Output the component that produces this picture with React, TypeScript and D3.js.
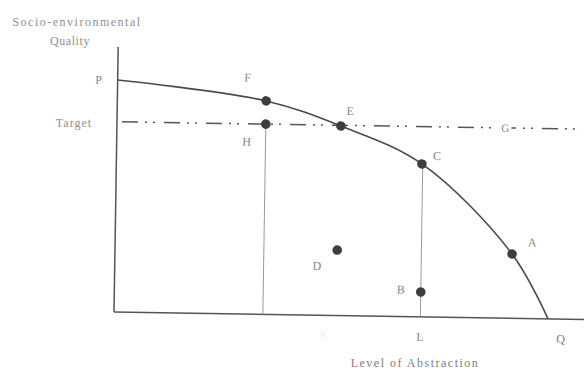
import React from "react";
import * as d3 from "d3";

// Frontier curve points (abstract units: x = level of abstraction, y = quality)
const curveNames = ["P", "F", "E", "C", "A", "Q"];
const curveX = [0, 34.3, 51.6, 70.4, 91.5, 100];
const curveY = [100, 92, 81.7, 65.9, 27.7, 0];

// Marked points (dots)
const dotNames = ["F", "H", "E", "C", "A", "D", "B"];
const dotX = [34.3, 34.3, 51.6, 70.4, 91.5, 51.2, 70.6];
const dotY = [92, 82, 81.7, 65.9, 27.7, 28.2, 10.7];

// Labels
const labelNames = ["P", "F", "H", "E", "C", "A", "D", "B"];
const labelX = [0, 34.3, 34.3, 51.6, 70.4, 91.5, 51.2, 70.6];
const labelY = [100, 92, 82, 81.7, 65.9, 27.7, 28.2, 10.7];

const targetValue = 82;
const targetLabel = "Target";
const gLabelX = 89.5;
const axisTickNames = ["K", "L", "Q"];
const axisTickX = [48.5, 70.6, 100];
const dropLineX = [34.3, 70.6];
const dropLineTop = [82, 65.9];

const yTitle1 = "Socio-environmental";
const yTitle2 = "Quality";
const xTitle = "Level of Abstraction";

const W = 584;
const H = 371;

export default function App() {
  const x = d3.scaleLinear().domain([0, 100]).range([114, 548]);
  const y = d3.scaleLinear().domain([0, 100]).range([312, 80]);

  const line = d3
    .line<number>()
    .x((_, i) => x(curveX[i]))
    .y((_, i) => y(curveY[i]))
    .curve(d3.curveCatmullRom.alpha(0.5));
  const path = line(curveX) || "";

  const offsets: Record<string, [number, number]> = {
    P: [-19, 0],
    F: [-19, -23],
    H: [-19, 18],
    E: [9, -15],
    C: [15, -8],
    A: [20, -12],
    D: [-20, 16],
    B: [-20, -2],
  };

  const font = "'Liberation Serif', 'DejaVu Serif', serif";
  const textFill = "#858585";

  return (
    <svg
      width={W}
      height={H}
      style={{ position: "absolute", left: 0, top: 0, background: "#fff" }}
      fontFamily={font}
    >
      <text x={77} y={26} textAnchor="middle" fontSize={12} letterSpacing={1.5} fill="#8f8f8f">
        {yTitle1}
      </text>
      <text x={70} y={45} textAnchor="middle" fontSize={12} letterSpacing={0.6} fill="#8f8f8f">
        {yTitle2}
      </text>
      <text x={415} y={367} textAnchor="middle" fontSize={12} letterSpacing={1.5} fill="#808080">
        {xTitle}
      </text>
      <text x={74} y={123} textAnchor="middle" dominantBaseline="central" fontSize={12} letterSpacing={1} fill="#8f8f8f">
        {targetLabel}
      </text>

      <g transform={`rotate(0.9, ${x(0)}, ${y(0)})`}>
        {/* axes */}
        <line x1={x(0)} x2={x(0)} y1={47} y2={y(0)} stroke="#555" strokeWidth={1.5} />
        <line x1={x(0)} x2={W + 10} y1={y(0)} y2={y(0)} stroke="#555" strokeWidth={1.5} />

        {/* target line */}
        <line
          x1={x(0) + 5}
          x2={W + 10}
          y1={y(targetValue)}
          y2={y(targetValue)}
          stroke="#555"
          strokeWidth={1.5}
          strokeDasharray="16,7,2,6,2,9"
        />

        {/* drop lines */}
        {dropLineX.map((v, i) => (
          <line key={i} x1={x(v)} x2={x(v)} y1={y(dropLineTop[i])} y2={y(0)} stroke="#999" strokeWidth={1} />
        ))}

        {/* frontier curve */}
        <path d={path} fill="none" stroke="#4a4a4a" strokeWidth={1.6} />

        {/* dots */}
        {dotNames.map((n, i) => (
          <circle key={n + i} cx={x(dotX[i])} cy={y(dotY[i])} r={4.8} fill="#3d3d3d" />
        ))}

        {/* point labels */}
        {labelNames.map((n, i) => (
          <text
            key={"l" + n}
            x={x(labelX[i]) + offsets[n][0]}
            y={y(labelY[i]) + offsets[n][1]}
            textAnchor="middle"
            dominantBaseline="central"
            fontSize={12}
            fill={textFill}
          >
            {n}
          </text>
        ))}

        <rect x={x(gLabelX) - 6} y={y(targetValue) - 6} width={12} height={12} fill="#fff" />
        <text
          x={x(gLabelX)}
          y={y(targetValue)}
          textAnchor="middle"
          dominantBaseline="central"
          fontSize={11}
          fill={textFill}
        >
          G
        </text>

        {axisTickNames.map((n, i) => (
          <text
            key={"t" + n}
            x={x(axisTickX[i]) + (n === "Q" ? 13 : 0)}
            y={y(0) + 20}
            textAnchor="middle"
            dominantBaseline="central"
            fontSize={12}
            fill={n === "K" ? "#efefef" : textFill}
          >
            {n}
          </text>
        ))}
      </g>
    </svg>
  );
}
